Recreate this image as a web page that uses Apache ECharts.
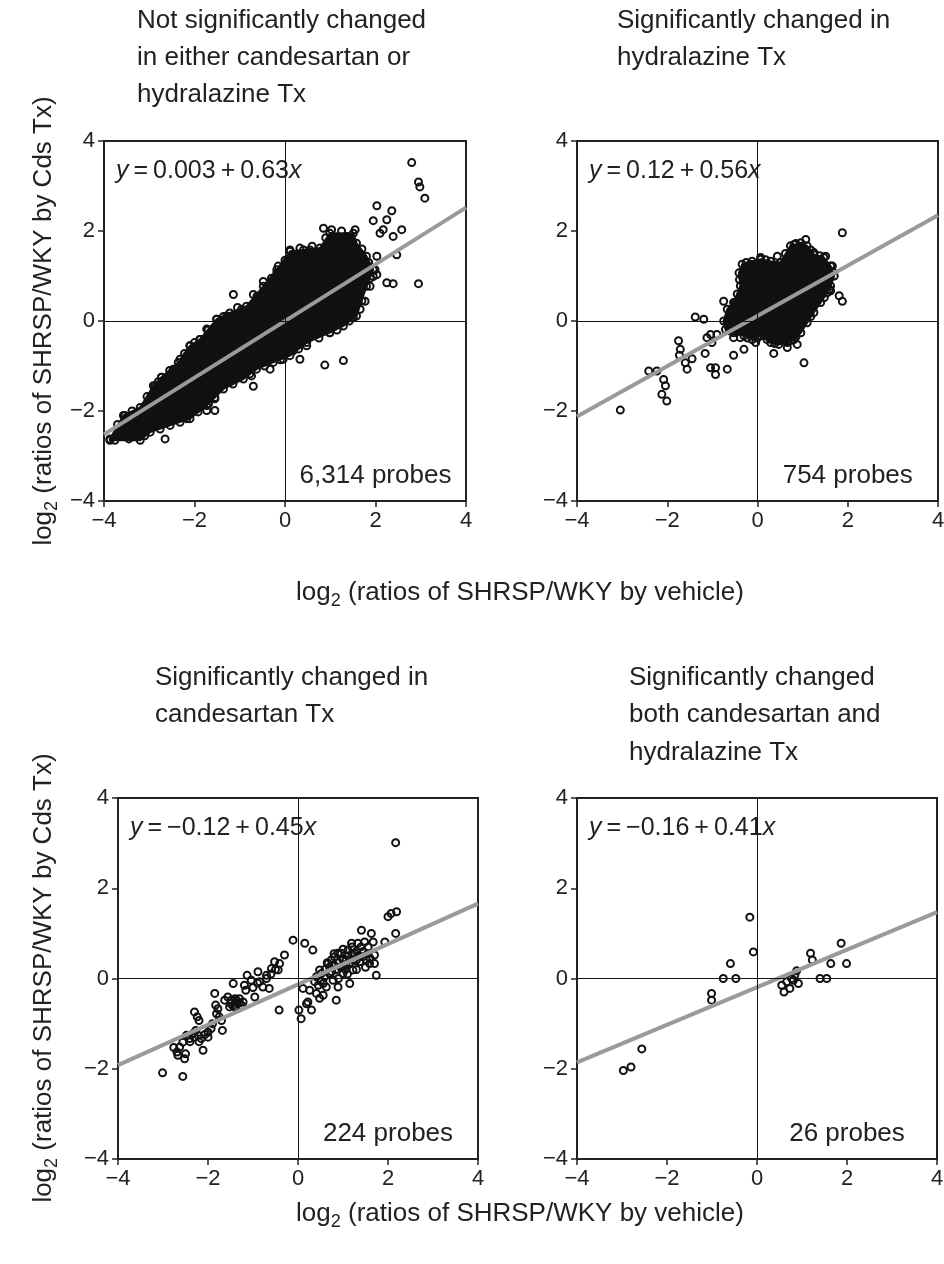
<!DOCTYPE html>
<html><head><meta charset="utf-8">
<script src="https://cdn.jsdelivr.net/npm/echarts@6/dist/echarts.min.js"></script>
<style>html,body{margin:0;padding:0;background:#fff}#c{width:944px;height:1264px}</style>
</head><body><div id="c"></div>
<script>
// ---------------- DATA ----------------
const axisTicks = [-4, -2, 0, 2, 4];
const tickLabels = ['\u22124', '\u22122', '0', '2', '4'];

const panelTitles = [
  'Not significantly changed\nin either candesartan or\nhydralazine Tx',
  'Significantly changed in\nhydralazine Tx',
  'Significantly changed in\ncandesartan Tx',
  'Significantly changed\nboth candesartan and\nhydralazine Tx'
];
const probeLabels = ['6,314 probes', '754 probes', '224 probes', '26 probes'];
const eqIntercepts = ['0.003', '0.12', '\u22120.12', '\u22120.16'];
const eqSlopes = ['0.63', '0.56', '0.45', '0.41'];

// regression line end points (x = -4 and x = 4)
const fit1 = [[-4, -2.52], [4, 2.52]];
const fit2 = [[-4, -2.12], [4, 2.35]];
const fit3 = [[-4, -1.92], [4, 1.66]];
const fit4 = [[-4, -1.86], [4, 1.47]];

// dense cloud outline, panel 1 (6,314 probes)
const core1 = [[-3.87,-2.62],[-3.57,-2.10],[-3.20,-1.92],[-2.91,-1.44],[-2.73,-1.25],[-2.36,-0.92],[-2.10,-0.55],[-1.88,-0.41],[-1.51,0.04],[-1.22,0.18],[-0.85,0.33],[-0.48,0.77],[-0.18,1.14],[0.11,1.55],[0.41,1.58],[0.77,1.62],[0.99,1.95],[1.51,1.95],[1.58,1.73],[1.80,1.44],[1.95,1.14],[1.80,0.77],[1.58,0.11],[1.29,-0.11],[0.99,-0.26],[0.48,-0.48],[0.11,-0.77],[-0.26,-0.92],[-0.63,-1.07],[-0.92,-1.29],[-1.36,-1.51],[-1.73,-1.88],[-2.10,-2.17],[-2.54,-2.32],[-2.98,-2.47],[-3.20,-2.65],[-3.87,-2.65]];
const pts1 = [[2.80,3.52],[2.95,3.09],[2.98,2.98],[3.09,2.73],[2.03,2.56],[2.36,2.45],[2.25,2.25],[1.95,2.23],[2.17,2.03],[2.58,2.03],[2.39,1.88],[2.10,1.95],[0.85,2.06],[1.03,2.03],[1.55,2.03],[2.47,1.47],[2.03,1.03],[2.25,0.85],[2.39,0.83],[2.95,0.83],[1.77,0.44],[1.95,0.99],[0.88,-0.98],[1.29,-0.88],[0.33,-0.85],[0.18,-0.66],[-0.33,-0.63],[-0.74,-1.22],[-0.70,-1.45],[-1.14,0.59],[-0.70,0.59],[-0.48,0.88],[-0.15,1.22],[0.11,1.58],[0.33,1.62],[-1.51,0.04],[-1.88,-0.41],[-2.10,-0.55],[-2.32,-0.85],[-2.73,-1.25],[-2.87,-1.44],[-1.73,-1.58],[-1.69,-1.84],[-1.73,-1.99],[-1.55,-1.99],[-1.55,-1.73],[-2.17,-2.17],[-2.65,-2.62],[-3.76,-2.65],[-3.54,-2.10],[-3.28,-2.25],[-3.17,-2.47],[-3.35,-2.47],[-3.02,-2.39],[-2.73,-2.10],[-2.54,-1.88],[-2.39,-1.66],[-2.32,-1.95],[-1.40,-0.77],[-1.25,-0.92],[-0.85,-1.07],[-0.33,-1.07],[-0.04,-0.85],[0.48,-0.55],[0.99,-0.26],[1.51,0.07],[1.66,0.26],[1.88,0.77],[1.99,1.14],[2.03,1.44],[1.36,1.88],[1.10,1.80],[0.55,1.58],[0.26,1.44],[-0.18,1.07],[-0.96,0.26],[-1.29,0.11],[-1.73,-0.18],[-2.17,-0.77],[-2.47,-1.07],[-2.84,-1.58],[-3.09,-1.88],[-3.43,-2.17],[-3.65,-2.39],[-1.05,0.30],[-0.62,0.55],[-0.30,0.95],[0.00,1.35],[0.60,1.66],[0.90,1.85],[1.25,2.00],[1.70,1.60],[1.85,1.30],[1.88,0.95],[1.70,0.45],[1.42,0.00],[1.15,-0.20],[0.75,-0.38],[0.30,-0.62],[-0.10,-0.86],[-0.45,-1.00],[-0.78,-1.18],[-1.15,-1.40],[-1.55,-1.70],[-1.92,-2.02],[-2.32,-2.25],[-2.76,-2.40],[-3.10,-2.55],[-3.45,-2.62],[-3.70,-2.30],[-3.38,-2.00],[-3.05,-1.68],[-2.80,-1.35],[-2.55,-1.10],[-2.22,-0.72],[-2.00,-0.48],[-1.70,-0.20],[-1.36,0.10]];

// dense cloud outline, panel 2 (754 probes)
const core2 = [[-0.75,0],[-0.67,0.26],[-0.53,0.41],[-0.38,0.78],[-0.41,1.07],[-0.34,1.26],[-0.12,1.33],[0.07,1.37],[0.29,1.33],[0.51,1.30],[0.73,1.67],[0.96,1.74],[1.10,1.67],[1.25,1.48],[1.47,1.41],[1.62,1.22],[1.70,1.00],[1.62,0.78],[1.55,0.63],[1.40,0.41],[1.25,0.19],[1.10,-0.04],[0.96,-0.26],[0.81,-0.41],[0.66,-0.48],[0.47,-0.52],[0.29,-0.48],[0.07,-0.33],[-0.12,-0.41],[-0.30,-0.33],[-0.53,-0.26],[-0.71,-0.19]];
const pts2 = [[-3.04,-1.98],[-2.41,-1.11],[-2.23,-1.11],[-2.08,-1.30],[-2.04,-1.44],[-2.12,-1.63],[-2.01,-1.78],[-1.75,-0.44],[-1.71,-0.63],[-1.73,-0.76],[-1.60,-0.93],[-1.56,-1.07],[-1.45,-0.84],[-1.38,0.09],[-1.19,0.04],[-1.16,-0.72],[-1.12,-0.37],[-1.01,-0.48],[-1.04,-1.04],[-0.93,-1.04],[-0.93,-1.19],[-0.67,-1.07],[-0.53,-0.76],[-0.75,0.44],[-0.49,0.41],[-0.30,-0.63],[-0.04,-0.48],[-0.38,-0.37],[0.36,-0.72],[0.66,-0.59],[0.88,-0.52],[1.03,-0.93],[0.73,-0.44],[1.88,1.96],[1.88,0.44],[1.81,0.56],[1.62,0.67],[-0.34,1.00],[-0.16,1.26],[0.07,1.41],[0.44,1.44],[0.81,1.70],[1.07,1.81],[1.25,1.52],[1.51,1.44],[1.66,1.22],[1.55,1.00],[1.33,0.70],[0.96,0.11],[0.73,-0.26],[0.51,-0.41],[0.21,-0.41],[-0.08,-0.19],[-0.67,-0.04],[-0.53,-0.37],[-0.90,-0.30],[-1.04,-0.30],[-0.60,0.15],[-0.45,0.60],[-0.40,0.92],[-0.25,1.30],[0.18,1.36],[0.62,1.50],[0.85,1.72],[1.18,1.58],[1.38,1.45],[1.66,1.10],[1.60,0.70],[1.48,0.52],[1.18,0.10],[0.85,-0.35],[0.38,-0.50],[0.00,-0.38],[-0.22,-0.38],[-0.62,-0.22]];

// panel 3 (224 probes)
const pts3 = [[-3.01,-2.09],[-2.56,-2.17],[-2.76,-1.53],[-2.69,-1.63],[-2.63,-1.52],[-2.52,-1.78],[-2.50,-1.67],[-2.67,-1.70],[-2.56,-1.41],[-2.48,-1.26],[-2.41,-1.33],[-2.33,-1.22],[-2.27,-1.15],[-2.22,-1.26],[-2.15,-1.33],[-2.11,-1.59],[-2.30,-0.74],[-2.24,-0.85],[-2.20,-0.93],[-2.07,-1.24],[-2.00,-1.19],[-1.93,-1.11],[-1.85,-0.33],[-1.83,-0.59],[-1.81,-0.78],[-1.78,-0.67],[-1.68,-1.15],[-1.70,-0.93],[-1.63,-0.48],[-1.56,-0.41],[-1.44,-0.11],[-1.48,-0.48],[-1.37,-0.48],[-1.30,-0.54],[-1.22,-0.52],[-1.41,-0.63],[-1.52,-0.63],[-1.19,-0.15],[-1.16,-0.26],[-1.13,0.07],[-1.04,-0.04],[-0.96,-0.41],[-0.89,0.15],[-0.85,-0.07],[-0.78,-0.19],[-0.70,0.07],[-0.64,-0.22],[-0.59,0.22],[-0.52,0.37],[-0.44,0.19],[-0.41,0.33],[-0.30,0.52],[-0.11,0.85],[0.15,0.78],[0.33,0.63],[-0.42,-0.70],[0.02,-0.70],[0.07,-0.89],[0.30,-0.70],[0.22,-0.52],[0.11,-0.22],[0.41,-0.33],[0.48,-0.44],[0.56,-0.37],[0.52,0.11],[0.48,0.19],[0.59,0.04],[0.67,0.33],[0.74,0.41],[0.81,0.48],[0.89,0.56],[0.96,0.56],[1.00,0.41],[1.07,0.30],[1.11,0.63],[1.19,0.78],[1.26,0.56],[1.33,0.78],[1.41,1.07],[1.48,0.81],[1.56,0.70],[1.63,1.00],[1.67,0.81],[1.70,0.52],[1.70,0.33],[1.74,0.07],[0.85,-0.48],[0.89,-0.19],[1.15,-0.11],[0.70,0.11],[0.78,-0.04],[1.00,0.11],[1.22,0.19],[1.37,0.37],[1.44,0.48],[1.52,0.41],[1.59,0.33],[1.93,0.81],[2.00,1.37],[2.07,1.44],[2.19,1.48],[2.17,1.00],[2.17,3.01],[1.07,0.41],[1.30,0.41],[1.00,0.26],[0.56,-0.11],[0.63,-0.19],[0.41,0.04],[0.37,-0.07],[0.26,-0.26],[0.19,-0.56],[0.60,0.20],[0.70,0.25],[0.80,0.30],[0.90,0.35],[1.00,0.45],[1.10,0.50],[1.20,0.55],[1.30,0.60],[0.75,0.15],[0.85,0.20],[0.95,0.25],[1.05,0.20],[1.15,0.35],[1.25,0.40],[1.35,0.50],[1.45,0.60],[1.55,0.55],[0.90,0.00],[1.10,0.10],[1.30,0.20],[1.50,0.25],[1.60,0.45],[1.20,0.70],[1.00,0.65],[0.80,0.55],[1.40,0.70],[0.65,0.35],[0.50,-0.05],[0.45,-0.15],[-1.50,-0.55],[-1.45,-0.60],[-1.35,-0.55],[-1.25,-0.60],[-1.40,-0.45],[-1.30,-0.45],[-2.40,-1.40],[-2.30,-1.30],[-2.20,-1.40],[-2.00,-1.30],[-1.90,-1.00],[-1.75,-0.85],[-1.00,-0.20],[-0.90,-0.10],[-0.70,0.00],[-0.60,0.10],[-0.50,0.20]];

// panel 4 (26 probes)
const pts4 = [[-2.97,-2.04],[-2.80,-1.96],[-2.56,-1.56],[-1.01,-0.33],[-1.01,-0.48],[-0.75,0],[-0.47,0],[-0.59,0.33],[-0.16,1.36],[-0.08,0.59],[0.55,-0.15],[0.60,-0.30],[0.73,-0.22],[0.81,-0.04],[0.88,0.17],[0.92,-0.11],[0.84,0.07],[0.66,-0.07],[1.19,0.56],[1.23,0.41],[1.40,0],[1.55,0],[1.64,0.33],[1.87,0.78],[1.99,0.33],[0.77,0]];

const coresByPanel = [core1, core2, null, null];
const pointsByPanel = [pts1, pts2, pts3, pts4];
const fitsByPanel = [fit1, fit2, fit3, fit4];

// ---------------- LAYOUT ----------------
const FONT = '"Liberation Sans", Arial, Helvetica, sans-serif';
const grids = [
  { left: 104, top: 141, width: 362, height: 360 },
  { left: 577, top: 141, width: 361, height: 360 },
  { left: 118, top: 798, width: 360, height: 361 },
  { left: 577, top: 798, width: 360, height: 361 }
];
const titlePos = [[137, 2.5, 37], [617, 2.5, 37], [155, 659, 37.5], [629, 659, 37.5]];

const chart = echarts.init(document.getElementById('c'), null, { renderer: 'canvas' });

const xAxes = [], yAxes = [], series = [], graphics = [];
const tickFmt = v => { const i = axisTicks.indexOf(v); return i >= 0 ? tickLabels[i] : ''; };
const markerStyle = { color: 'rgba(255,255,255,0)', borderColor: '#111', borderWidth: 2, opacity: 1 };
grids.forEach((g, i) => {
  const ax = {
    type: 'value', gridIndex: i, min: axisTicks[0], max: axisTicks[axisTicks.length - 1], interval: 2,
    axisLine: { show: false, onZero: false },
    axisTick: { show: true, inside: false, length: 6, lineStyle: { color: '#222', width: 1.5 } },
    axisLabel: { color: '#222', fontSize: 22, fontFamily: FONT, margin: 9, formatter: tickFmt, hideOverlap: false, showMinLabel: true, showMaxLabel: true },
    splitLine: { show: false }
  };
  xAxes.push(Object.assign({}, ax, { position: 'bottom' }));
  yAxes.push(Object.assign({}, ax, { position: 'left' }));

  // crosshair at 0,0
  series.push({
    type: 'scatter', xAxisIndex: i, yAxisIndex: i, data: [], z: 1, silent: true,
    markLine: { silent: true, symbol: ['none', 'none'], label: { show: false }, animation: false,
      lineStyle: { color: '#111', width: 1, type: 'solid' }, emphasis: { disabled: true },
      data: [{ xAxis: 0 }, { yAxis: 0 }] }
  });
  const core = coresByPanel[i];
  if (core) {
    series.push({
      type: 'custom', xAxisIndex: i, yAxisIndex: i, z: 2, silent: true, data: core,
      encode: { x: 0, y: 1 },
      renderItem: (params, api) => {
        if (params.dataIndex !== 0) return null;
        const pts = core.map(p => api.coord(p));
        return { type: 'polygon', shape: { points: pts }, style: { fill: '#111', stroke: '#111', lineWidth: 2, lineJoin: 'round' } };
      }
    });
    // circles sitting on the edge of the dense cloud
    series.push({
      type: 'scatter', xAxisIndex: i, yAxisIndex: i, z: 3, silent: true,
      data: core, symbol: 'circle', symbolSize: 7, itemStyle: markerStyle
    });
  }
  series.push({
    type: 'scatter', xAxisIndex: i, yAxisIndex: i, z: 3, silent: true,
    data: pointsByPanel[i], symbol: 'circle', symbolSize: 7, itemStyle: markerStyle
  });
  series.push({
    type: 'line', xAxisIndex: i, yAxisIndex: i, z: 4, silent: true,
    data: fitsByPanel[i], showSymbol: false, symbol: 'none',
    lineStyle: { color: '#9a9a9a', width: 4 }
  });

  // panel title
  graphics.push({
    type: 'text', x: titlePos[i][0], y: titlePos[i][1], silent: true,
    style: { text: panelTitles[i], font: '26px ' + FONT, fill: '#222', lineHeight: titlePos[i][2], align: 'left', verticalAlign: 'top' }
  });
  // equation
  graphics.push({
    type: 'text', x: g.left + 12, y: g.top + 30.5, silent: true,
    style: {
      text: '{i|y}{n|\u2009=\u2009' + eqIntercepts[i] + '\u2009+\u2009' + eqSlopes[i] + '}{i|x}',
      align: 'left', verticalAlign: 'middle',
      rich: {
        i: { font: 'italic 25px ' + FONT, fill: '#222', lineHeight: 30 },
        n: { font: '25px ' + FONT, fill: '#222', lineHeight: 30 }
      }
    }
  });
  // probes count
  graphics.push({
    type: 'text', x: g.left + g.width * 0.75, y: g.top + g.height - 25, silent: true,
    style: { text: probeLabels[i], font: '26px ' + FONT, fill: '#222', align: 'center', verticalAlign: 'middle' }
  });
});

// axis titles (one per row)
const richAx = {
  b: { font: '26px ' + FONT, fill: '#222', lineHeight: 34, verticalAlign: 'middle' },
  s: { font: '18px ' + FONT, fill: '#222', lineHeight: 10, verticalAlign: 'bottom' }
};
[[321, 593], [978, 1214]].forEach(([yc, xy]) => {
  graphics.push({
    type: 'text', x: 44, y: yc, rotation: Math.PI / 2, silent: true,
    style: { text: '{b|log}{s|2}{b| (ratios of SHRSP/WKY by Cds Tx)}', align: 'center', verticalAlign: 'middle', rich: richAx }
  });
  graphics.push({
    type: 'text', x: 520, y: xy, silent: true,
    style: { text: '{b|log}{s|2}{b| (ratios of SHRSP/WKY by vehicle)}', align: 'center', verticalAlign: 'middle', rich: richAx }
  });
});

chart.setOption({
  animation: false,
  backgroundColor: '#ffffff',
  grid: grids.map(g => Object.assign({ show: true, borderColor: '#222', borderWidth: 2, backgroundColor: 'transparent', containLabel: false, outerBoundsMode: 'none' }, g)),
  xAxis: xAxes,
  yAxis: yAxes,
  series: series,
  graphic: graphics
});
</script></body></html>
